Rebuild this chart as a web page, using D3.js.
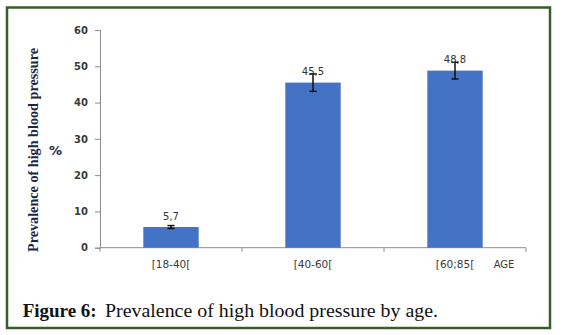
<!DOCTYPE html>
<html>
<head>
<meta charset="utf-8">
<script src="https://cdn.jsdelivr.net/npm/d3@7/dist/d3.min.js"></script>
<style>
  html, body { margin: 0; padding: 0; background: #fff; }
  svg { display: block; }
</style>
</head>
<body>
<svg id="chart" width="564" height="335"></svg>
<script>
// Age groups and prevalence of high blood pressure (%)
const categories = ["[18-40[", "[40-60[", "[60;85["];
const prevalence = [5.7, 45.5, 48.8];
const errorMargin = [0.4, 2.4, 2.3];
const yTicks = [0, 10, 20, 30, 40, 50, 60];
const valueLabels = ["5,7", "45,5", "48,8"];

const svg = d3.select("#chart");

// Frame around figure
svg.append("rect")
  .attr("x", 7).attr("y", 7.5)
  .attr("width", 543).attr("height", 320.5)
  .attr("fill", "none")
  .attr("stroke", "#385d2b")
  .attr("stroke-width", 2.5);

const plot = { left: 100, right: 526, top: 30, bottom: 247.7 };

const y = d3.scaleLinear().domain([0, 60]).range([plot.bottom, plot.top]);
const x = d3.scaleBand()
  .domain(categories)
  .range([plot.left, plot.right])
  .paddingInner(0.61)
  .paddingOuter(0.305);

const axisColor = "#8c8c8c";

// Y axis
const yAxis = svg.append("g")
  .attr("transform", `translate(${plot.left},0)`)
  .call(d3.axisLeft(y).tickValues(yTicks).tickSize(5).tickPadding(7));
yAxis.select(".domain").attr("stroke", axisColor);
yAxis.selectAll(".tick line").attr("stroke", axisColor);
yAxis.selectAll(".tick text")
  .attr("font-family", "DejaVu Sans, Verdana, sans-serif")
  .attr("font-size", 10)
  .attr("font-weight", "bold")
  .attr("fill", "#3a3a3a");

// X axis baseline and category separators
const xAxis = svg.append("g")
  .attr("transform", `translate(0,${plot.bottom})`)
  .call(d3.axisBottom(x).tickSize(0).tickPadding(13));
xAxis.select(".domain").remove();
xAxis.selectAll(".tick text")
  .attr("font-family", "DejaVu Sans, Verdana, sans-serif")
  .attr("font-size", 10.5)
  .attr("fill", "#3a3a3a");

xAxis.append("line")
  .attr("x1", plot.left).attr("x2", plot.right)
  .attr("y1", 0).attr("y2", 0)
  .attr("stroke", axisColor);

const step = x.step();
const boundaries = d3.range(categories.length + 1).map(i => plot.left + i * step);
xAxis.selectAll(".sep")
  .data(boundaries)
  .join("line")
  .attr("class", "sep")
  .attr("x1", d => d).attr("x2", d => d)
  .attr("y1", 0).attr("y2", 4)
  .attr("stroke", axisColor);

svg.append("text")
  .attr("x", 504).attr("y", plot.bottom + 20)
  .attr("text-anchor", "middle")
  .attr("font-family", "DejaVu Sans, Verdana, sans-serif")
  .attr("font-size", 10)
  .attr("fill", "#3a3a3a")
  .text("AGE");

// Bars
svg.selectAll(".bar")
  .data(prevalence)
  .join("rect")
  .attr("class", "bar")
  .attr("x", (d, i) => x(categories[i]))
  .attr("y", d => y(d))
  .attr("width", x.bandwidth())
  .attr("height", d => y(0) - y(d))
  .attr("fill", "#4472c4");

// Error bars
const eb = svg.selectAll(".err")
  .data(prevalence)
  .join("g")
  .attr("class", "err")
  .attr("transform", (d, i) => `translate(${x(categories[i]) + x.bandwidth() / 2},0)`);
eb.append("line")
  .attr("y1", (d, i) => y(d + errorMargin[i]))
  .attr("y2", (d, i) => y(d - errorMargin[i]))
  .attr("stroke", "#111").attr("stroke-width", 1.5);
eb.append("line")
  .attr("x1", -3.5).attr("x2", 3.5)
  .attr("y1", (d, i) => y(d + errorMargin[i]))
  .attr("y2", (d, i) => y(d + errorMargin[i]))
  .attr("stroke", "#111").attr("stroke-width", 1.5);
eb.append("line")
  .attr("x1", -3.5).attr("x2", 3.5)
  .attr("y1", (d, i) => y(d - errorMargin[i]))
  .attr("y2", (d, i) => y(d - errorMargin[i]))
  .attr("stroke", "#111").attr("stroke-width", 1.5);

// Value labels
svg.selectAll(".val")
  .data(prevalence)
  .join("text")
  .attr("class", "val")
  .attr("x", (d, i) => x(categories[i]) + x.bandwidth() / 2)
  .attr("y", d => y(d) - 7.5)
  .attr("text-anchor", "middle")
  .attr("font-family", "DejaVu Sans, Verdana, sans-serif")
  .attr("font-size", 10)
  .attr("fill", "#333")
  .text((d, i) => valueLabels[i]);

// Y axis title
svg.append("text")
  .attr("transform", "translate(37.5,150) rotate(-90)")
  .attr("text-anchor", "middle")
  .attr("font-family", "Liberation Serif, Times New Roman, serif")
  .attr("font-weight", "bold")
  .attr("font-size", 15)
  .attr("fill", "#1d2644")
  .attr("textLength", 204)
  .attr("lengthAdjust", "spacingAndGlyphs")
  .text("Prevalence of high blood pressure");

svg.append("text")
  .attr("x", 55.5).attr("y", 155)
  .attr("text-anchor", "middle")
  .attr("font-family", "DejaVu Sans, Verdana, sans-serif")
  .attr("font-weight", "bold")
  .attr("font-size", 13)
  .attr("fill", "#1d2644")
  .text("%");

// Caption
svg.append("text")
  .attr("x", 22.7).attr("y", 317)
  .attr("font-family", "Liberation Serif, Times New Roman, serif")
  .attr("font-weight", "bold")
  .attr("font-size", 18)
  .attr("fill", "#111")
  .attr("textLength", 74)
  .attr("lengthAdjust", "spacingAndGlyphs")
  .text("Figure 6:");

svg.append("text")
  .attr("x", 105).attr("y", 317)
  .attr("font-family", "Liberation Serif, Times New Roman, serif")
  .attr("font-size", 18)
  .attr("fill", "#111")
  .attr("textLength", 333)
  .attr("lengthAdjust", "spacingAndGlyphs")
  .text("Prevalence of high blood pressure by age.");
</script>
</body>
</html>
